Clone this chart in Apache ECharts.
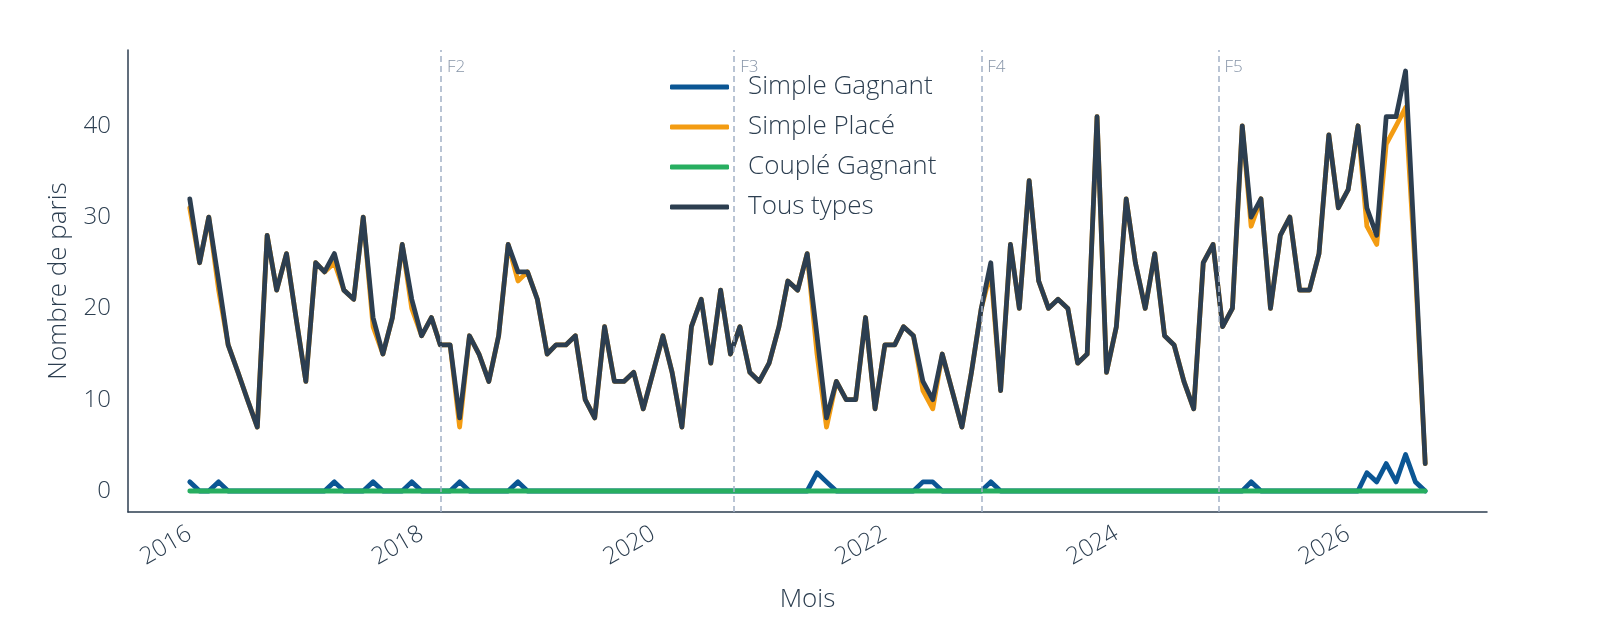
<!DOCTYPE html>
<html lang="fr">
<head>
<meta charset="UTF-8">
<title>Nombre de paris par mois</title>
<script src="https://cdn.jsdelivr.net/npm/echarts@6/dist/echarts.min.js"></script>
<style>
  html, body { margin: 0; padding: 0; background: #fff; }
  #main { width: 1600px; height: 640px; }
</style>
</head>
<body>
<div id="main"></div>
<script type="text/javascript">
// premier mois de la série
var startYear = 2016, startMonth = 0;

// Tous types
var tousTypes = [
  32,25,30,23,16,13,10,7,28,22,26,19,
  12,25,24,26,22,21,30,19,15,19,27,21,
  17,19,16,16,8,17,15,12,17,27,24,24,
  21,15,16,16,17,10,8,18,12,12,13,9,
  13,17,13,7,18,21,14,22,15,18,13,12,
  14,18,23,22,26,17,8,12,10,10,19,9,
  16,16,18,17,12,10,15,11,7,13,20,25,
  11,27,20,34,23,20,21,20,14,15,41,13,
  18,32,25,20,26,17,16,12,9,25,27,18,
  20,40,30,32,20,28,30,22,22,26,39,31,
  33,40,31,28,41,41,46,25,3
];
// Simple Placé
var simplePlace = [
  31,25,30,22,16,13,10,7,28,22,26,19,
  12,25,24,25,22,21,30,18,15,19,27,20,
  17,19,16,16,7,17,15,12,17,27,23,24,
  21,15,16,16,17,10,8,18,12,12,13,9,
  13,17,13,7,18,21,14,22,15,18,13,12,
  14,18,23,22,26,15,7,12,10,10,19,9,
  16,16,18,17,11,9,15,11,7,13,20,24,
  11,27,20,34,23,20,21,20,14,15,41,13,
  18,32,25,20,26,17,16,12,9,25,27,18,
  20,40,29,32,20,28,30,22,22,26,39,31,
  33,40,29,27,38,40,42,24,3
];
// Simple Gagnant
var simpleGagnant = [
  1,0,0,1,0,0,0,0,0,0,0,0,
  0,0,0,1,0,0,0,1,0,0,0,1,
  0,0,0,0,1,0,0,0,0,0,1,0,
  0,0,0,0,0,0,0,0,0,0,0,0,
  0,0,0,0,0,0,0,0,0,0,0,0,
  0,0,0,0,0,2,1,0,0,0,0,0,
  0,0,0,0,1,1,0,0,0,0,0,1,
  0,0,0,0,0,0,0,0,0,0,0,0,
  0,0,0,0,0,0,0,0,0,0,0,0,
  0,0,1,0,0,0,0,0,0,0,0,0,
  0,0,2,1,3,1,4,1,0
];
// Couplé Gagnant
var coupleGagnant = [
  0,0,0,0,0,0,0,0,0,0,0,0,
  0,0,0,0,0,0,0,0,0,0,0,0,
  0,0,0,0,0,0,0,0,0,0,0,0,
  0,0,0,0,0,0,0,0,0,0,0,0,
  0,0,0,0,0,0,0,0,0,0,0,0,
  0,0,0,0,0,0,0,0,0,0,0,0,
  0,0,0,0,0,0,0,0,0,0,0,0,
  0,0,0,0,0,0,0,0,0,0,0,0,
  0,0,0,0,0,0,0,0,0,0,0,0,
  0,0,0,0,0,0,0,0,0,0,0,0,
  0,0,0,0,0,0,0,0,0
];

// repères verticaux
var phaseNames = ['F2', 'F3', 'F4', 'F5'];
var phaseDates = ['2018-03-03', '2020-09-13', '2022-11-01', '2024-11-18'];

var yearTicks = [2016, 2018, 2020, 2022, 2024, 2026];
var yTicks = [0, 10, 20, 30, 40];

var textColor = '#2c3e50';
var font = 'Open Sans';
var fontW = 300;

function ts(y, m, d) { return new Date(y, m, d || 1).getTime(); }
function parseDay(s) {
  var p = s.split('-');
  return ts(+p[0], +p[1] - 1, +p[2]);
}

var months = [];
for (var i = 0; i < tousTypes.length; i++) {
  months.push(ts(startYear, startMonth + i, 1));
}
function pairs(vals) {
  return vals.map(function (v, i) { return [months[i], v]; });
}

var t0 = months[0], t1 = months[months.length - 1];
var pad = (t1 - t0) * 0.05;

var markLines = phaseDates.map(function (d) { return { xAxis: parseDay(d) }; });
var markPoints = phaseDates.map(function (d, i) {
  return { name: phaseNames[i], coord: [parseDay(d), 46.4] };
});

var myChart = echarts.init(document.getElementById('main'));

function lineSeries(name, vals, color) {
  return {
    name: name,
    type: 'line',
    data: pairs(vals),
    showSymbol: false,
    symbol: 'none',
    lineStyle: { color: color, width: 4.8, join: 'round', cap: 'round' },
    itemStyle: { color: color },
    emphasis: { disabled: true },
    animation: false
  };
}

var sG = lineSeries('Simple Gagnant', simpleGagnant, '#0b5694');
var sP = lineSeries('Simple Placé', simplePlace, '#f39c12');
var cG = lineSeries('Couplé Gagnant', coupleGagnant, '#27ae60');
var tT = lineSeries('Tous types', tousTypes, '#2c3e50');

sG.markLine = {
  silent: true,
  symbol: 'none',
  label: { show: false },
  lineStyle: { color: '#a3b1c6', width: 1.5, type: [6, 4] },
  data: markLines,
  animation: false
};
sG.markPoint = {
  silent: true,
  symbol: 'circle',
  symbolSize: 0,
  label: {
    show: true,
    position: 'right',
    distance: 6,
    formatter: '{b}',
    color: '#8795a8',
    fontSize: 17,
    fontFamily: font,
    fontWeight: fontW
  },
  data: markPoints,
  animation: false
};

var option = {
  animation: false,
  textStyle: { fontFamily: font, color: textColor, fontWeight: fontW },
  grid: { left: 128, right: 113, top: 50, bottom: 128 },
  legend: {
    orient: 'vertical',
    left: 665,
    top: 67,
    icon: 'roundRect',
    itemWidth: 59,
    itemHeight: 5,
    itemGap: 10,
    textStyle: {
      fontFamily: font,
      fontWeight: fontW,
      fontSize: 26,
      color: textColor,
      lineHeight: 30,
      padding: [0, 0, 0, 14]
    },
    data: ['Simple Gagnant', 'Simple Placé', 'Couplé Gagnant', 'Tous types']
  },
  xAxis: {
    type: 'value',
    min: t0 - pad,
    max: t1 + pad,
    name: 'Mois',
    nameLocation: 'middle',
    nameGap: 75,
    nameTextStyle: { fontFamily: font, fontWeight: fontW, fontSize: 26, color: textColor },
    axisLine: { show: true, onZero: false, lineStyle: { color: textColor, width: 1.5 } },
    axisTick: { show: false },
    splitLine: { show: false },
    axisLabel: {
      rotate: 30,
      margin: 20,
      fontSize: 24,
      fontFamily: font,
      fontWeight: fontW,
      color: textColor,
      customValues: yearTicks.map(function (y) { return ts(y, 0, 1); }),
      formatter: function (v) { return String(new Date(v).getFullYear()); }
    }
  },
  yAxis: {
    type: 'value',
    min: -2.3,
    max: 48.3,
    name: 'Nombre de paris',
    nameLocation: 'middle',
    nameGap: 56,
    nameTextStyle: { fontFamily: font, fontWeight: fontW, fontSize: 26, color: textColor },
    axisLine: { show: true, onZero: false, lineStyle: { color: textColor, width: 1.5 } },
    axisTick: { show: false },
    splitLine: { show: false },
    axisLabel: {
      margin: 17,
      fontSize: 24,
      fontFamily: font,
      fontWeight: fontW,
      color: textColor,
      customValues: yTicks
    }
  },
  series: [sG, sP, cG, tT]
};

myChart.setOption(option, true);
</script>
</body>
</html>
